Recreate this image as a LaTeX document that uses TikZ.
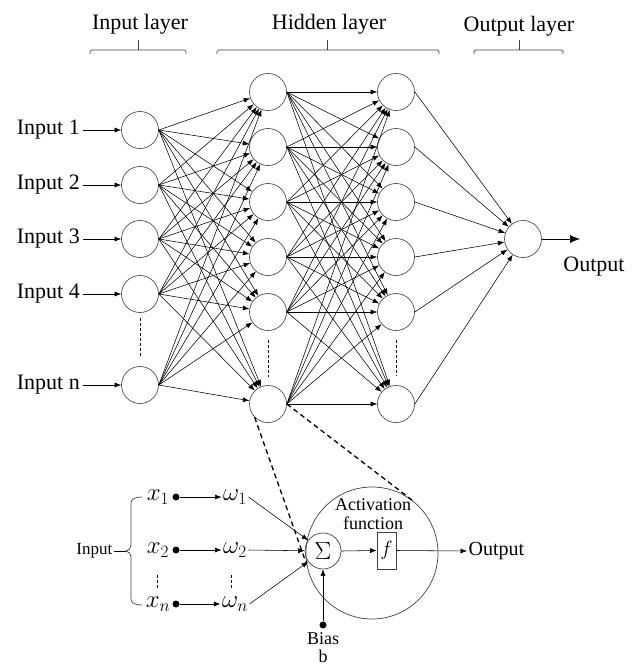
\documentclass[tikz,border=0pt]{standalone}
\usepackage{fontspec}
\setmainfont{Liberation Serif}
\usetikzlibrary{arrows.meta}
\begin{document}
\begin{tikzpicture}[x=1pt,y=-1pt,
  neuron/.style={circle,draw=black!70,line width=0.7pt,minimum size=37pt,inner sep=0pt},
  conn/.style={line width=0.55pt,-{Latex[length=6.5pt,width=5pt]}},
  bigarrow/.style={line width=0.7pt,-{Latex[length=10pt,width=8pt]}},
  lbl/.style={font=\fontsize{22}{26}\selectfont,inner sep=2.5pt},
  small/.style={font=\fontsize{18}{20}\selectfont,inner sep=1.5pt},
  mth/.style={font=\fontsize{23}{25}\selectfont,inner sep=1.5pt},
  vdots/.style={line width=1pt,dash pattern=on 3pt off 2pt},
  brk/.style={line width=0.7pt,draw=black!75,rounded corners=1.5pt},
  zoomline/.style={line width=1.3pt,dash pattern=on 5pt off 3.5pt},
  dotnode/.style={circle,fill=black,inner sep=0pt,minimum size=7pt},
]
\useasboundingbox (0,0) rectangle (639,666);

% layer titles and brackets
\node[lbl] (tin) at (140,24) {Input layer};
\node[lbl] (thid) at (329,24) {Hidden layer};
\node[lbl] (tout) at (519,26) {Output layer};
\draw[brk] (90,54) -- (90,50) -- (186,50) -- (186,54);
\draw[brk] (138,50) -- (138,40);
\draw[brk] (217,54) -- (217,50) -- (439,50) -- (439,54);
\draw[brk] (327,50) -- (327,40);
\draw[brk] (474,54) -- (474,50) -- (563,50) -- (563,54);
\draw[brk] (519,50) -- (519,40);

% neurons
\foreach \i/\y in {1/130,2/185,3/239,4/294,5/385}
  \node[neuron] (i\i) at (140,\y) {};
\foreach \i/\y in {1/92,2/147,3/202,4/257,5/312,6/404}{
  \node[neuron] (h\i) at (268,\y) {};
  \node[neuron] (g\i) at (396,\y) {};
}
\node[neuron] (o) at (523,239) {};

% input labels
\foreach \i/\t/\y in {1/Input 1/130,2/Input 2/185,3/Input 3/239,4/Input 4/294,5/Input n/385}{
  \node[lbl,anchor=east] (l\i) at (82.5,\y) {\t};
  \draw[conn] (l\i.east) -- (i\i.west);
}

% connections
\foreach \a in {1,...,5}
  \foreach \b in {1,...,6}
    \draw[conn] (i\a.east) -- (h\b);
\foreach \a in {1,...,6}
  \foreach \b in {1,...,6}
    \draw[conn] (h\a.east) -- (g\b);
\foreach \a in {1,...,6}
  \draw[conn] (g\a.east) -- (o);

% vertical ellipses
\draw[vdots] (140,318) -- (140,356);
\draw[vdots] (268,340) -- (268,377);
\draw[vdots] (396,340) -- (396,376);

% output
\node[lbl] (otxt) at (594,267) {Output};
\coordinate (oend) at (580,239);
\draw[bigarrow] (o.east) -- (oend);

% ---- detail of a neuron ----
\node[circle,draw=black!75,line width=0.7pt,minimum size=132pt,inner sep=0pt] (act) at (372,553) {};
\node[circle,draw=black!75,line width=0.7pt,minimum size=36pt,inner sep=0pt,font=\fontsize{24}{26}\selectfont] (sig) at (323,551) {$\Sigma$};
\node[draw=black!75,line width=0.7pt,minimum width=19pt,minimum height=37pt,inner sep=0pt,font=\fontsize{22}{24}\selectfont] (f) at (386.5,550.5) {$f$};
\node[small,align=center] (atext) at (373,514) {Activation\\[-1pt]function};
\draw[conn] (sig.east) -- (f.west);
\node[small,anchor=west,font=\fontsize{20}{22}\selectfont] (bout) at (467,551) {Output};
\draw[conn] (f.east) -- (bout.west);

% bias
\node[dotnode] (bdot) at (323,625) {};
\draw[conn] (bdot) -- (sig.south);
\node[small,align=center,anchor=north,inner sep=0.5pt] (bias) at (323,632) {Bias\\[-2pt]b};

% inputs of the detail
\node[small,font=\fontsize{17}{20}\selectfont,anchor=east] (inp) at (114,551) {Input};
\draw[line width=0.7pt] (inp.east) -- (126,551);
\draw[line width=0.7pt,draw=black!75] (142,497) to[out=180,in=90] (131,503) -- (131,545) to[out=270,in=0] (126,551)
   to[out=0,in=90] (131,557) -- (131,599) to[out=270,in=180] (142,605);

\foreach \k/\y/\s in {1/497/1,2/550/2,3/604/n}{
  \node[mth] (x\k) at (158,\y) {$x_{\s}$};
  \node[dotnode] (d\k) at (176,\y) {};
  \node[mth] (w\k) at (235,\y) {$\omega_{\s}$};
  \draw[conn] (d\k) -- (w\k.west);
  \draw[conn] (w\k.east) -- (sig);
}
\draw[vdots] (157,575) -- (157,588);
\draw[vdots] (231,575) -- (231,588);

% zoom lines
\draw[zoomline] (h6.south west) -- (act.190);
\draw[zoomline] (h6.east) -- (act.53);
\end{tikzpicture}
\end{document}
